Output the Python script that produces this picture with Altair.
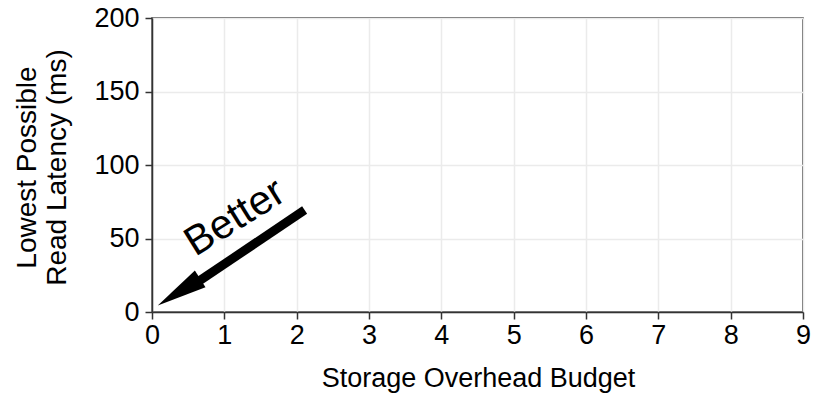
import altair as alt
import pandas as pd

# Axis ticks
x_ticks = [0, 1, 2, 3, 4, 5, 6, 7, 8, 9]
y_ticks = [0, 50, 100, 150, 200]

# Arrow ("Better" direction) in data coordinates
shaft_x = [2.11, 0.62]
shaft_y = [69.4, 20.0]
head_x = [0.08]
head_y = [4.5]
label_x = [1.15]
label_y = [64.0]
label_text = ["Better"]

shaft_df = pd.DataFrame({"x": shaft_x, "y": shaft_y, "o": [0, 1]})
head_df = pd.DataFrame({"x": head_x, "y": head_y})
label_df = pd.DataFrame({"x": label_x, "y": label_y, "t": label_text})

FONT = "Liberation Sans"

xscale = alt.Scale(domain=[0, 9], nice=False, zero=False)
yscale = alt.Scale(domain=[0, 200], nice=False, zero=False)

xaxis = alt.Axis(values=x_ticks, title="Storage Overhead Budget", format="d",
                 labelFlush=False, titleX=326, titleY=74, titleBaseline="alphabetic",
                 titleFontSize=27)
yaxis = alt.Axis(values=y_ticks, title=["Lowest Possible", "Read Latency (ms)"],
                 format="d", labelFlush=False, titleX=-117, titleY=149,
                 titleBaseline="alphabetic", titleAngle=270)

shaft = alt.Chart(shaft_df).mark_line(color="black", strokeWidth=9, strokeCap="butt").encode(
    x=alt.X("x:Q", scale=xscale, axis=xaxis),
    y=alt.Y("y:Q", scale=yscale, axis=yaxis),
    order="o:Q",
)

head = alt.Chart(head_df).mark_point(
    shape="M0,0L0.4,2L-0.4,2Z", size=2500, angle=238,
    filled=True, color="black", opacity=1, strokeWidth=0,
).encode(x=alt.X("x:Q", scale=xscale), y=alt.Y("y:Q", scale=yscale))

label = alt.Chart(label_df).mark_text(
    font=FONT, fontSize=41, angle=328, color="black", align="center", baseline="middle",
).encode(x=alt.X("x:Q", scale=xscale), y=alt.Y("y:Q", scale=yscale), text="t:N")

chart = alt.layer(shaft, head, label).properties(
    width=651, height=294,
    autosize=alt.AutoSizeParams(type="none"),
    padding={"left": 144, "top": 10, "right": 8, "bottom": 82},
).configure_view(
    stroke="#333333", strokeWidth=1.5,
).configure_axis(
    labelFont=FONT, titleFont=FONT,
    labelFontSize=27, titleFontSize=28,
    labelColor="black", titleColor="black",
    titleFontWeight="normal",
    gridColor="#ebebeb", gridWidth=1.5,
    domainColor="#333333", domainWidth=1.5,
    tickColor="#333333", tickWidth=1.5, tickSize=7,
).configure_axisX(
    labelPadding=3,
).configure_axisY(
    labelPadding=6, titleLineHeight=30,
)

chart.save("out.html", embed_options={"renderer": "svg", "actions": False})
